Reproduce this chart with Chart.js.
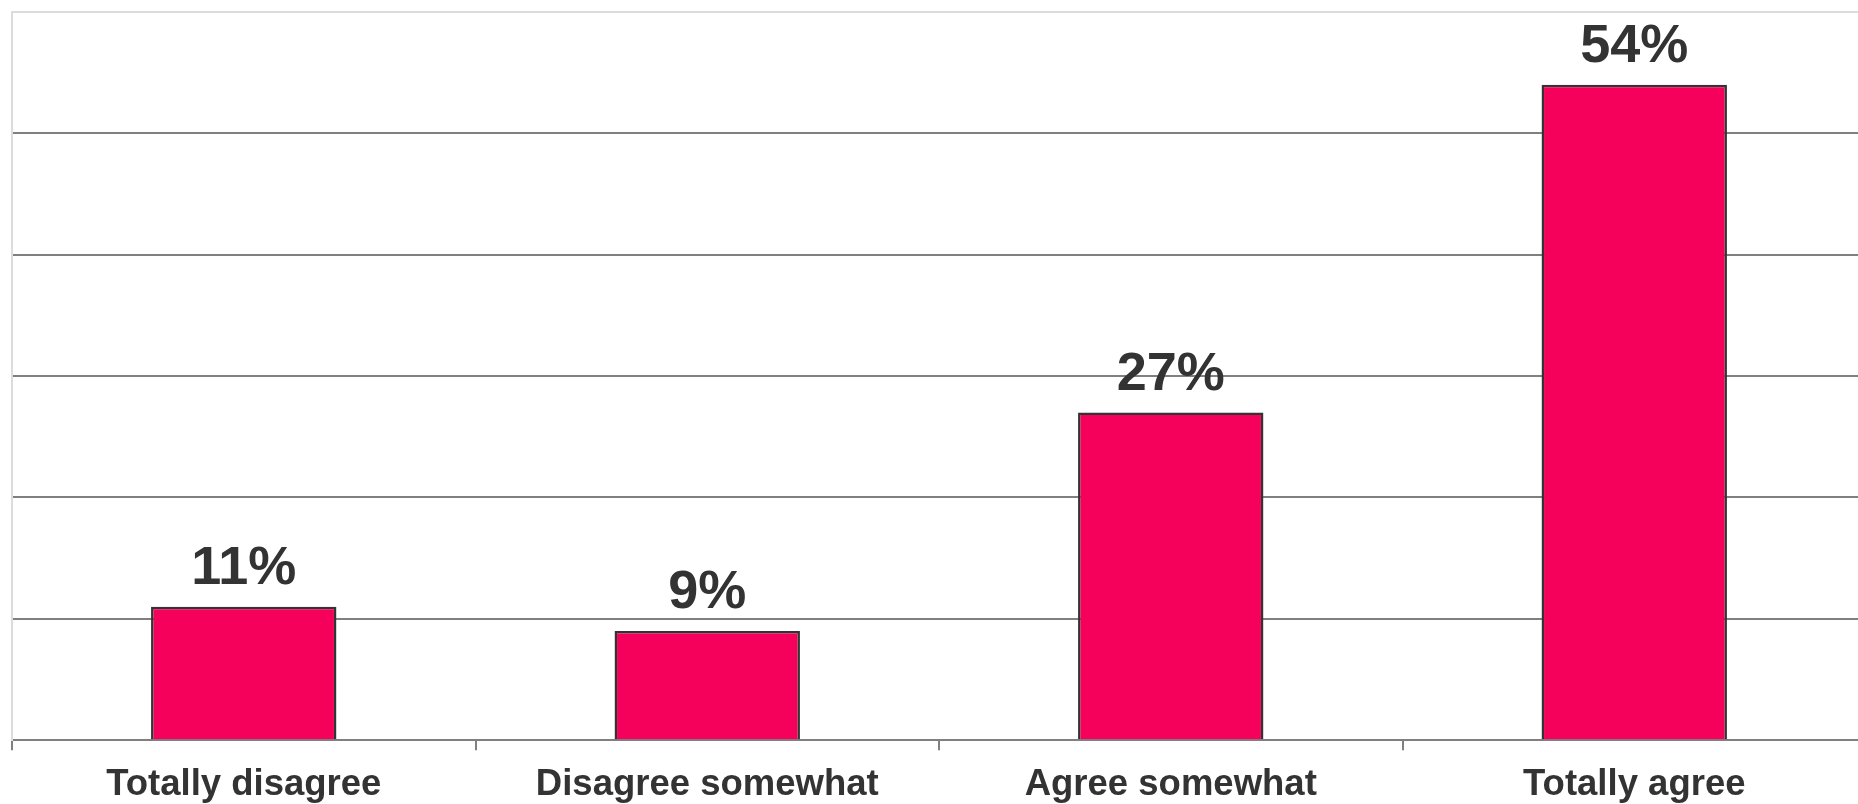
<!DOCTYPE html>
<html>
<head>
<meta charset="utf-8">
<script src="https://cdn.jsdelivr.net/npm/chart.js@4/dist/chart.umd.min.js"></script>
<style>
  html, body { margin: 0; padding: 0; background: #fff; overflow: hidden; }
  #wrap { width: 1866px; height: 820px; }
</style>
</head>
<body>
<div id="wrap"><canvas id="chart"></canvas></div>
<script>
const categories = ["Totally disagree", "Disagree somewhat", "Agree somewhat", "Totally agree"];
const shares = [11, 9, 27, 54];
const yMax = 60;
const yStep = 10;

// draws the "11%" style labels above each bar
const barLabels = {
  id: "barLabels",
  afterDatasetsDraw(chart) {
    const ctx = chart.ctx;
    const meta = chart.getDatasetMeta(0);
    ctx.save();
    ctx.fillStyle = "#333333";
    ctx.font = "bold 54px 'Liberation Sans', Arial, sans-serif";
    ctx.textAlign = "center";
    ctx.textBaseline = "alphabetic";
    meta.data.forEach((bar, i) => {
      ctx.fillText(shares[i] + "%", bar.x, bar.y - 23);
    });
    ctx.restore();
  },
};

new Chart(document.getElementById("chart").getContext("2d"), {
  type: "bar",
  data: {
    labels: categories,
    datasets: [
      {
        data: shares,
        backgroundColor: "#f5005a",
        borderColor: "#333333",
        borderWidth: 2.5,
        barPercentage: 0.4,
        categoryPercentage: 1,
      },
    ],
  },
  options: {
    responsive: true,
    maintainAspectRatio: false,
    animation: false,
    layout: { padding: { top: 12, left: 12, right: 0, bottom: 0 } },
    plugins: {
      legend: { display: false },
      tooltip: { enabled: false },
      title: { display: false },
    },
    scales: {
      x: {
        grid: {
          drawOnChartArea: false,
          tickLength: 10,
          color: "#808080",
          lineWidth: 2,
        },
        border: { color: "#808080", width: 2 },
        ticks: {
          color: "#333333",
          padding: 13,
          maxRotation: 0,
          font: { family: "'Liberation Sans', Arial, sans-serif", size: 36.5, weight: "bold" },
        },
      },
      y: {
        min: 0,
        max: yMax,
        ticks: { display: false, stepSize: yStep },
        grid: {
          drawTicks: false,
          lineWidth: 2,
          color: (c) => (c.tick && c.tick.value === yMax ? "#dcdcdc" : "#808080"),
        },
        border: { color: "#dcdcdc", width: 2 },
      },
    },
  },
  plugins: [barLabels],
});
</script>
</body>
</html>
